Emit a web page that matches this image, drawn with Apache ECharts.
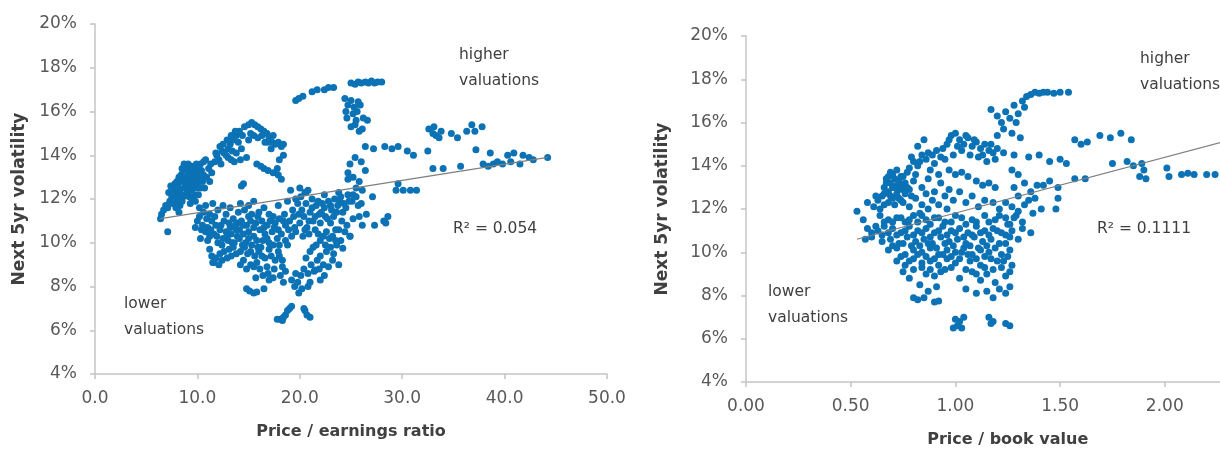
<!DOCTYPE html>
<html>
<head>
<meta charset="utf-8">
<script src="https://cdn.jsdelivr.net/npm/echarts@6/dist/echarts.min.js"></script>
<style>
  html, body { margin: 0; padding: 0; background: #fff; }
  #chart { width: 1220px; height: 450px; }
</style>
</head>
<body>
<div id="chart"></div>
<script>
// Price / earnings ratio vs. next 5-year volatility (%)
const peVol = [
  [6.4,11.1],[6.5,11.3],[6.7,11.5],[6.9,11.7],[7.1,11.6],[7.3,11.9],[7.5,12.1],[7.2,12.3],[7.7,12.4],[7.9,12.2],[7.4,12.6],[7.1,10.5],[8.2,11.4],[8.0,11.9],
  [7.6,11.8],[7.9,11.6],[8.3,11.7],[8.5,11.9],[7.8,12.7],[8.1,12.0],
  [8.1,12.6],[8.3,12.9],[8.4,13.1],[8.6,13.3],[8.8,13.5],[9.0,13.4],[9.2,13.3],[9.4,13.5],[9.6,13.4],[9.8,13.2],[8.5,12.8],[8.9,12.9],[9.1,12.7],[9.3,12.9],[9.5,12.8],[9.7,13.0],[10.0,13.1],[8.7,12.5],[9.0,12.3],[9.2,12.1],[9.4,12.4],[9.6,12.6],[10.2,12.9],[8.3,12.4],[9.9,12.5],[10.1,12.2],[9.8,11.9],[8.6,12.1],[9.1,13.1],[9.5,13.2],[8.8,13.0],[10.4,13.3],[10.6,13.7],[10.3,13.6],[10.5,12.8],[10.7,12.5],[9.7,12.2],[10.2,11.6],[9.3,11.8],
  [8.2,13.0],[8.5,13.4],[8.7,13.6],[9.1,13.6],[9.3,13.1],[9.6,13.0],[9.9,13.6],[10.1,13.4],[8.9,12.6],[9.4,12.6],[9.7,12.8],[10.0,12.7],[8.4,12.2],[8.9,12.2],[9.5,12.0],[10.3,12.5],[8.0,12.8],[8.7,12.9],[9.2,12.5],[10.6,13.1],[10.8,13.8],[11.1,13.4],[11.4,13.2],[10.9,13.0],[11.2,12.8],
  [11.3,13.6],[11.7,13.7],[12.1,13.8],[12.4,14.2],[12.8,14.0],[13.0,14.3],[13.2,14.5],[13.5,14.7],[13.8,14.9],[14.1,15.1],[14.4,14.9],[12.6,14.1],[13.0,13.9],[13.3,13.8],[13.6,13.7],[13.4,14.2],[14.6,15.3],[11.9,14.0],
  [11.8,14.1],[12.2,14.4],[12.5,14.5],[12.9,14.7],[13.3,14.9],[13.7,15.1],[14.0,14.6],[14.3,14.3],[13.8,14.1],[14.2,13.8],[12.3,13.6],
  [15.0,15.4],[15.3,15.5],[15.6,15.4],[15.9,15.3],[16.2,15.2],[16.5,15.1],[16.8,15.0],[15.2,15.0],[15.5,14.9],[15.9,14.8],[16.3,14.9],[16.6,14.6],[17.0,14.8],[17.3,14.6],[17.6,14.5],[17.9,14.6],[18.2,14.4],[18.4,14.5],[17.2,14.3],[16.9,14.6],[15.0,14.7],[17.4,14.9],[14.8,13.9],
  [15.8,13.6],[16.2,13.5],[16.5,13.4],[16.9,13.3],[17.4,13.2],[17.9,13.1],[18.2,12.9],[17.8,13.4],[14.5,12.7],[14.3,12.6],[15.5,11.9],[18.4,14.0],[18.0,13.8],
  [10.2,11.2],[10.6,11.4],[11.2,11.3],[12.0,11.5],[14.0,11.4],[14.6,11.5],[15.3,11.3],[16.0,11.4],[17.4,11.2],[18.5,11.3],[19.3,11.5],
  [10.8,11.7],[11.5,11.8],[12.5,11.7],[13.2,11.6],[14.2,11.8],[15.0,11.7],[16.5,11.6],[17.9,11.7],[18.8,11.9],[19.6,12.0],
  [9.8,10.7],[10.5,10.8],[11.0,10.7],[11.4,11.0],[11.8,10.8],[12.6,11.0],[13.1,10.9],[13.5,11.1],[13.9,10.9],[14.3,11.0],[14.8,10.8],[15.2,11.0],[15.7,10.9],[16.3,11.0],[16.8,10.8],[17.1,11.0],[17.6,10.9],[18.0,11.1],[18.6,10.8],[19.0,11.0],[19.5,10.7],
  [10.0,11.0],[10.4,10.6],[10.9,11.1],[11.3,10.6],[11.7,11.2],[12.3,10.8],[12.8,11.3],[13.2,10.7],[13.7,10.8],[14.1,10.6],[14.5,10.8],[15.0,11.2],[15.5,10.7],[15.9,11.2],[16.5,10.7],[17.0,11.3],[17.5,10.7],[17.9,10.6],[18.4,11.0],[18.9,10.6],[19.4,11.2],
  [10.8,10.5],[11.6,10.4],[12.2,10.6],[12.8,10.5],[13.3,10.4],[13.8,10.6],[14.5,10.4],[15.0,10.5],[15.5,10.3],[16.1,10.6],[16.6,10.4],[17.3,10.5],[18.2,10.4],[19.2,10.3],
  [10.3,10.2],[11.2,10.3],[11.9,10.3],[12.4,9.9],[12.9,10.3],[13.4,10.0],[13.9,10.3],[14.4,9.9],[15.0,10.2],[15.8,10.1],[16.2,9.8],[16.8,10.2],[17.4,9.9],[18.0,9.9],[18.6,10.1],
  [11.0,10.1],[12.0,10.0],[12.5,10.2],[13.0,10.1],[13.6,10.0],[14.1,10.2],[14.7,10.0],[15.3,9.9],[16.4,10.1],[17.0,10.0],[17.8,10.2],[18.8,9.9],
  [11.4,9.4],[11.8,9.3],[12.2,9.5],[12.6,9.6],[13.1,9.7],[13.5,9.8],[14.2,9.6],[14.9,9.5],[15.6,9.4],[16.0,9.6],[16.6,9.3],[17.2,9.4],[17.9,9.6],[18.3,9.2],
  [11.2,9.7],[11.5,9.1],[12.4,9.2],[12.9,9.3],[13.3,9.4],[13.8,9.5],[14.6,9.8],[15.2,9.6],[15.9,9.8],[16.3,9.4],[17.0,9.7],[17.6,9.2],[18.0,9.4],
  [11.6,9.1],[12.1,9.0],[14.5,9.2],[15.2,9.0],[15.8,9.1],[16.8,8.9],[17.5,8.8],[18.6,8.7],[18.1,8.5],[16.4,8.5],[17.0,8.3],
  [14.2,9.0],[14.8,8.8],[15.5,8.9],[16.1,8.8],[16.9,8.6],[17.4,8.4],[18.3,8.9],[15.7,8.4],
  [14.8,7.9],[15.1,7.8],[15.5,7.7],[15.8,7.75],[16.5,7.9],[19.2,8.3],[19.6,8.6],[18.4,8.2],
  [17.8,6.5],[18.1,6.5],[18.4,6.6],[18.6,6.7],[18.8,6.9],[19.0,7.0],[19.2,7.1],[20.5,6.9],[20.7,6.7],[21.0,6.6],[18.3,6.45],[20.4,7.0],
  [19.5,8.0],[19.8,8.2],[20.1,8.5],[20.4,8.8],[20.8,8.6],[21.1,9.0],[21.4,8.7],[21.7,9.2],[22.0,9.4],[22.3,9.0],[22.6,9.6],[23.0,9.8],[23.3,9.5],[23.6,9.9],[24.0,10.1],[21.0,8.2],[22.4,8.5],[20.2,7.9],[19.9,7.7],[21.5,8.75],[23.8,9.0],[24.2,9.75],
  [21.0,9.6],[21.6,9.9],[22.5,9.9],[23.5,10.1],[20.6,9.3],[22.8,8.9],[23.2,9.2],[21.9,8.8],[20.8,8.0],[22.0,8.3],
  [19.6,10.5],[20.0,10.9],[20.4,11.2],[20.7,10.7],[21.0,11.4],[21.3,11.0],[21.6,11.7],[21.9,11.3],[22.2,11.8],[22.5,11.2],[22.8,11.9],[23.1,11.5],[23.4,12.0],[23.7,11.7],[24.0,12.1],[24.3,11.8],[24.7,12.2],[25.1,11.9],[25.5,12.1],[20.3,10.3],[20.9,10.4],[21.5,10.6],[22.0,10.9],[22.6,10.5],[23.0,10.9],[23.5,10.6],[24.1,11.0],[24.6,10.8],[21.2,12.0],[20.5,12.3],[20.8,12.4],[19.8,11.8],[20.1,12.1],[22.4,12.2],[23.8,12.3],[26.0,11.8],[22.0,10.1],[21.3,9.8],[22.9,10.2],[24.9,10.3],[19.1,12.4],[20.0,12.5],[20.6,12.3],
  [20.2,11.5],[20.6,11.8],[20.9,11.0],[21.2,11.6],[21.5,11.2],[21.8,11.9],[22.1,11.4],[22.4,11.6],[22.7,11.1],[23.0,11.7],[23.3,11.2],[23.6,11.4],[23.9,11.9],[24.2,11.4],[24.5,11.6],[24.8,11.9],[25.2,12.2],[25.7,11.7],[19.9,11.3],[20.5,10.6],[21.8,10.4],[22.3,10.3],[23.2,10.3],[23.8,10.6],[24.4,10.5],[25.2,11.1],
  [19.6,16.5],[19.9,16.6],[20.3,16.7],[21.2,16.9],[21.7,17.0],[22.4,17.0],[22.8,17.1],[23.3,17.1],[25.0,17.3],[25.4,17.25],[25.7,17.35],[26.0,17.3],[26.4,17.35],[26.7,17.3],[27.0,17.4],[27.3,17.3],[27.6,17.35],[28.0,17.35],
  [24.4,16.6],[24.7,16.3],[25.0,16.5],[25.3,16.2],[25.6,16.0],[25.9,16.3],[25.2,15.9],[24.6,15.7],[25.5,15.6],[26.2,15.7],[26.6,15.6],[25.0,15.3],[25.4,15.4],[25.8,15.1],[26.1,15.2],[24.5,16.0],[25.7,16.45],
  [26.4,14.4],[27.2,14.3],[28.3,14.4],[29.0,14.3],[29.6,14.4],[30.5,14.2],[31.1,14.0],
  [24.9,13.6],[25.4,13.9],[26.0,13.7],[26.4,13.3],[25.2,13.0],[25.8,12.8],[26.1,12.4],[24.7,12.9],[25.5,12.5],[24.7,13.2],
  [29.4,12.4],[30.1,12.4],[30.8,12.4],[31.4,12.4],[29.6,12.7],
  [25.8,11.2],[26.5,11.3],[26.1,10.8],[27.3,10.8],[28.2,11.0],[28.6,11.2],[28.4,10.9],[27.1,12.1],[24.9,10.3],
  [32.6,15.2],[33.0,15.0],[33.3,14.9],[33.1,15.3],[33.6,14.8],[34.8,15.0],[35.4,14.8],[36.3,15.1],[36.8,15.4],[37.1,15.1],[37.8,15.3],[33.8,15.1],
  [32.5,14.2],[33.0,13.4],[34.0,13.4],[35.7,13.5],[37.2,14.25],[37.9,13.6],[38.4,13.5],[38.9,13.6],[38.6,14.1],[39.3,13.7],[40.3,14.0],[40.9,14.1],[41.5,13.6],[41.8,14.0],[42.4,13.9],[42.8,13.8],[44.2,13.9],[39.8,13.6],[40.6,13.7]
];

// Price / book value vs. next 5-year volatility (%)
const pbVol = [
  [0.53,11.9],[0.56,11.5],[0.58,12.3],[0.57,10.6],[0.60,10.9],[0.62,11.2],[0.58,11.1],
  [0.65,12.6],[0.66,13.0],[0.67,13.4],[0.68,12.8],[0.69,13.2],[0.70,13.6],[0.71,13.0],[0.72,12.7],[0.73,13.3],[0.74,13.5],[0.75,12.9],[0.76,13.2],[0.77,13.7],[0.68,13.5],[0.70,12.5],[0.72,13.8],[0.74,12.4],[0.66,12.2],[0.78,12.9],[0.71,12.2],[0.64,12.0],[0.80,13.3],[0.79,12.6],
  [0.66,12.7],[0.67,13.2],[0.69,12.6],[0.70,13.0],[0.71,13.4],[0.72,13.1],[0.73,12.9],[0.74,13.1],[0.75,13.5],[0.76,12.7],[0.77,13.0],[0.69,13.7],[0.73,12.5],[0.68,12.3],[0.63,12.4],[0.61,12.1],[0.62,12.6],
  [0.78,13.9],[0.80,14.2],[0.82,14.0],[0.84,14.5],[0.86,14.3],[0.88,13.8],[0.90,14.1],[0.92,13.6],[0.93,14.4],[0.82,14.9],[0.85,15.2],[0.81,13.6],[0.87,13.4],[0.91,14.7],
  [0.79,14.4],[0.83,14.2],[0.87,14.6],[0.89,14.5],[0.94,14.8],[0.97,15.2],[1.01,14.9],[1.09,15.2],[1.17,15.0],
  [0.96,15.0],[0.98,15.4],[1.00,15.5],[1.02,15.2],[1.04,15.0],[1.06,15.3],[1.08,14.9],[1.10,15.1],[1.12,14.8],[1.14,15.0],[1.16,14.7],[1.18,14.6],[1.20,14.8],[1.03,14.7],[0.99,14.5],[1.07,14.5],[1.11,14.4],[0.95,14.3],[1.05,15.4],[1.13,14.5],[1.19,14.3],
  [0.97,13.8],[1.00,13.6],[1.03,13.7],[1.06,13.5],[1.10,13.3],[1.13,13.1],[1.16,13.2],[1.19,13.0],[1.15,14.2],[0.93,13.2],[0.97,12.9],
  [0.84,13.0],[0.86,12.7],[0.90,12.8],[0.95,12.6],[0.99,12.4],[0.92,12.2],[1.02,12.8],[1.05,12.3],[1.08,12.6],[1.11,12.1],[1.14,12.4],[1.18,12.3],[1.21,12.0],[0.96,12.0],
  [0.75,12.3],[0.78,12.1],[0.81,12.5],[0.84,12.2],[0.87,12.0],[0.83,11.8],[0.89,12.4],
  [0.64,11.7],[0.68,11.5],[0.72,11.6],[0.76,11.4],[0.80,11.7],[0.86,11.5],[0.92,11.6],[0.98,11.4],[1.03,11.6],[1.08,11.5],[1.14,11.7],[1.19,11.5],[1.24,11.6],[1.29,11.7],
  [0.66,11.4],[0.70,11.4],[0.74,11.6],[0.78,11.5],[0.82,11.4],[0.84,11.7],[0.88,11.3],[0.90,11.6],[0.95,11.4],[1.00,11.7],[1.05,11.3],[1.10,11.4],[1.16,11.4],[1.21,11.7],[1.26,11.3],
  [0.63,11.0],[0.66,11.2],[0.70,11.1],[0.74,10.9],[0.78,11.2],[0.82,11.0],[0.86,11.1],[0.90,10.9],[0.94,11.2],[0.98,11.0],[1.02,11.1],[1.06,10.9],[1.10,11.2],[1.14,11.0],[1.18,11.1],[1.22,10.9],[1.27,11.0],[1.32,11.1],[1.36,10.9],
  [0.65,10.8],[0.68,10.9],[0.72,10.8],[0.76,11.0],[0.80,10.8],[0.84,10.9],[0.88,10.7],[0.92,11.0],[0.96,10.8],[1.00,10.9],[1.04,10.7],[1.08,10.8],[1.12,10.9],[1.16,10.8],[1.20,11.0],[1.24,10.8],[1.30,10.6],
  [0.60,10.7],[0.65,10.5],[0.69,10.6],[0.73,10.4],[0.77,10.7],[0.81,10.5],[0.85,10.6],[0.89,10.4],[0.93,10.7],[0.97,10.5],[1.01,10.6],[1.05,10.4],[1.09,10.7],[1.13,10.5],[1.17,10.6],[1.21,10.4],[1.26,10.7],
  [0.70,10.3],[0.75,10.4],[0.79,10.3],[0.83,10.3],[0.87,10.4],[0.91,10.2],[0.95,10.4],[0.99,10.3],[1.03,10.0],[1.07,10.3],[1.11,10.2],[1.15,10.3],[1.19,10.2],[1.24,10.4],
  [0.68,10.1],[0.72,10.2],[0.76,9.9],[0.80,10.1],[0.84,10.0],[0.88,10.2],[0.92,9.9],[0.96,10.1],[1.00,10.0],[1.04,10.2],[1.08,9.9],[1.12,10.1],[1.16,10.0],[1.22,9.9],[1.26,10.1],
  [0.74,9.8],[0.78,9.6],[0.82,9.9],[0.86,9.8],[0.90,9.7],[0.94,9.9],[0.98,9.8],[1.02,9.7],[1.06,9.9],[1.10,9.7],[1.14,9.8],[1.20,9.6],[1.25,9.8],
  [0.72,9.6],[0.76,9.4],[0.80,9.7],[0.84,9.5],[0.88,9.6],[0.92,9.4],[0.96,9.7],[1.00,9.5],[1.07,9.6],[1.12,9.4],[1.17,9.7],[1.23,9.6],[1.27,9.4],
  [0.80,9.2],[0.84,9.3],[0.88,9.2],[0.93,9.1],[0.98,9.3],[1.05,9.2],[1.10,9.0],[1.14,9.3],[1.18,9.2],[1.22,9.3],[1.26,9.1],
  [0.75,9.1],[0.78,8.8],[0.86,9.0],[0.90,8.9],[0.95,9.2],[1.02,8.8],[1.08,9.1],[1.12,8.7],[1.15,9.0],[1.19,8.6],[1.24,8.9],[1.21,8.3],
  [0.83,8.5],[0.87,8.2],[0.91,8.4],[1.05,8.3],[1.10,8.1],[1.15,8.2],[1.24,8.1],[1.18,7.9],
  [0.80,7.9],[0.82,7.8],[0.85,7.9],[0.90,7.7],[0.92,7.75],[1.26,8.4],
  [0.99,6.5],[1.01,6.6],[1.03,6.5],[1.02,6.8],[1.00,6.9],[1.04,7.0],[1.16,7.0],[1.17,6.7],[1.18,6.8],[1.24,6.7],[1.26,6.6],
  [1.25,11.3],[1.28,11.6],[1.30,11.9],[1.33,12.2],[1.35,12.4],[1.30,12.6],[1.27,12.1],[1.24,12.3],[1.32,11.4],[1.37,11.8],[1.38,12.5],[1.36,12.8],[1.28,13.0],[1.33,13.2],
  [1.42,13.1],[1.45,13.3],[1.49,13.0],[1.57,13.4],[1.62,13.4],[1.41,12.0],[1.48,12.0],[1.49,12.5],
  [1.17,16.6],[1.20,16.3],[1.22,16.0],[1.24,16.5],[1.26,16.2],[1.28,16.8],[1.30,16.4],[1.32,17.0],[1.34,17.2],[1.36,17.3],[1.38,17.4],[1.40,17.35],[1.42,17.4],[1.44,17.4],[1.47,17.35],[1.50,17.4],[1.54,17.4],[1.33,16.7],[1.29,16.0],[1.23,15.7],[1.20,15.4],[1.27,15.5],[1.31,15.3],
  [1.23,14.6],[1.28,14.5],[1.35,14.4],[1.40,14.5],[1.45,14.2],[1.50,14.3],[1.53,14.1],[1.57,15.2],[1.60,15.0],[1.63,15.1],[1.69,15.4],[1.74,15.3],[1.79,15.5],[1.84,15.2],[1.75,14.1],[1.82,14.2],[1.85,14.0],[1.89,14.1],[1.90,13.8],[1.88,13.5],[1.91,13.4],[2.01,13.9],[2.02,13.5],[2.08,13.6],[2.11,13.65],[2.14,13.6],[2.20,13.6],[2.24,13.6],[1.27,13.8],[1.30,13.6],[1.39,13.1]
];

// Linear trend line end points
const peTrend = [[6.4, 11.1], [44.2, 13.9]];
const pbTrend = [[0.53, 10.6], [2.3, 15.16]];

// Axis ticks
const yTicks = { min: 4, max: 20, interval: 2 };
const peTicks = { min: 0, max: 50, interval: 10 };
const pbTicks = { min: 0, max: 2.5, interval: 0.5 };

const FONT = '"DejaVu Sans", Verdana, sans-serif';
const DOT = '#0b72b5';
const AXIS = '#c4c4c4';
const LABEL = '#595959';
const TITLE = '#404040';

function xAxis(idx, ticks, name, digits) {
  return {
    type: 'value', gridIndex: idx,
    min: ticks.min, max: ticks.max, interval: ticks.interval,
    name: name, nameLocation: 'middle', nameGap: 50,
    nameTextStyle: { fontFamily: FONT, fontWeight: 'bold', fontSize: 16, color: TITLE },
    axisLine: { show: true, lineStyle: { color: AXIS, width: 1.5 } },
    axisTick: { show: true, length: 5, lineStyle: { color: AXIS, width: 1.5 } },
    axisLabel: { margin: 16, fontFamily: FONT, fontSize: 17, color: LABEL,
      formatter: v => v.toFixed(digits) },
    splitLine: { show: false }
  };
}
function yAxis(idx, gap) {
  return {
    type: 'value', gridIndex: idx,
    min: yTicks.min, max: yTicks.max, interval: yTicks.interval,
    name: 'Next 5yr volatility', nameLocation: 'middle', nameGap: gap,
    nameTextStyle: { fontFamily: FONT, fontWeight: 'bold', fontSize: 17, color: TITLE },
    axisLine: { show: true, lineStyle: { color: AXIS, width: 1.5 } },
    axisTick: { show: true, length: 5, lineStyle: { color: AXIS, width: 1.5 } },
    axisLabel: { margin: 18, fontFamily: FONT, fontSize: 17, color: LABEL, formatter: '{value}%' },
    splitLine: { show: false }
  };
}
function dots(idx, data) {
  return { type: 'scatter', xAxisIndex: idx, yAxisIndex: idx, data: data,
    symbolSize: 7, itemStyle: { color: DOT, opacity: 1 }, silent: true, z: 2 };
}
function trend(idx, data) {
  return { type: 'line', xAxisIndex: idx, yAxisIndex: idx, data: data,
    symbol: 'none', lineStyle: { color: '#7f7f7f', width: 1.2 }, silent: true, z: 3 };
}
function note(x, y, text) {
  return { type: 'text', left: x, top: y, z: 10,
    style: { text: text, fontFamily: FONT, fontSize: 15.5, lineHeight: 26, fill: TITLE } };
}

const chart = echarts.init(document.getElementById('chart'), null, { renderer: 'canvas' });
chart.setOption({
  animation: false,
  backgroundColor: '#ffffff',
  grid: [
    { left: 95, top: 24, width: 512, height: 350, outerBoundsMode: 'none', containLabel: false },
    { left: 746, top: 36, width: 523.5, height: 346, outerBoundsMode: 'none', containLabel: false }
  ],
  xAxis: [
    xAxis(0, peTicks, 'Price / earnings ratio', 1),
    xAxis(1, pbTicks, 'Price / book value', 2)
  ],
  yAxis: [ yAxis(0, 67), yAxis(1, 75) ],
  series: [ dots(0, peVol), trend(0, peTrend), dots(1, pbVol), trend(1, pbTrend) ],
  graphic: [
    note(459, 42, 'higher\nvaluations'),
    note(453, 216, 'R² = 0.054'),
    note(124, 291, 'lower\nvaluations'),
    note(1140, 46, 'higher\nvaluations'),
    note(1097, 216, 'R² = 0.1111'),
    note(768, 279, 'lower\nvaluations')
  ]
});
</script>
</body>
</html>
